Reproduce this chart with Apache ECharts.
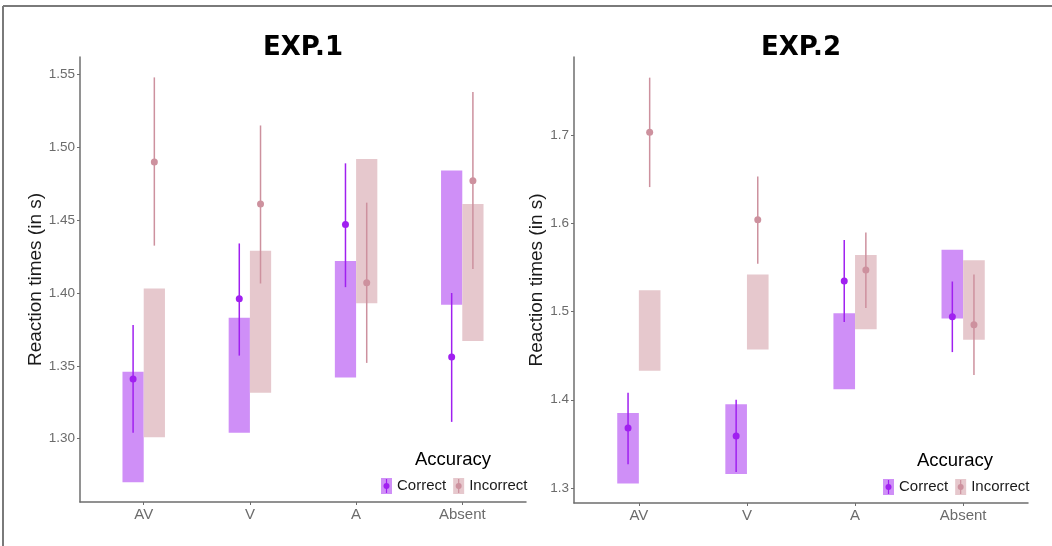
<!DOCTYPE html>
<html>
<head>
<meta charset="utf-8">
<script src="https://cdn.jsdelivr.net/npm/echarts@6/dist/echarts.min.js"></script>
<style>
html,body{margin:0;padding:0;background:#fff;}
#main{width:1052px;height:546px;}
</style>
</head>
<body>
<div id="main"></div>
<script>
// ---------- data ----------
const categories = ['AV', 'V', 'A', 'Absent'];
const yTicksExp1 = [1.30, 1.35, 1.40, 1.45, 1.50, 1.55];
const yTicksExp2 = [1.3, 1.4, 1.5, 1.6, 1.7];

// EXP.1
const exp1CorrectBoxLow   = [1.270, 1.304, 1.342, 1.392];
const exp1CorrectBoxHigh  = [1.346, 1.383, 1.422, 1.484];
const exp1CorrectMean     = [1.341, 1.396, 1.447, 1.356];
const exp1CorrectErrLow   = [1.304, 1.357, 1.404, 1.3115];
const exp1CorrectErrHigh  = [1.378, 1.434, 1.489, 1.400];
const exp1IncorrectBoxLow  = [1.301, 1.3315, 1.393, 1.367];
const exp1IncorrectBoxHigh = [1.403, 1.429, 1.492, 1.461];
const exp1IncorrectMean    = [1.490, 1.461, 1.407, 1.477];
const exp1IncorrectErrLow  = [1.4325, 1.4065, 1.352, 1.4165];
const exp1IncorrectErrHigh = [1.548, 1.515, 1.462, 1.538];

// EXP.2
const exp2CorrectBoxLow   = [1.305, 1.316, 1.412, 1.492];
const exp2CorrectBoxHigh  = [1.385, 1.395, 1.498, 1.570];
const exp2CorrectMean     = [1.368, 1.359, 1.5345, 1.494];
const exp2CorrectErrLow   = [1.327, 1.318, 1.488, 1.454];
const exp2CorrectErrHigh  = [1.408, 1.400, 1.581, 1.534];
const exp2IncorrectBoxLow  = [1.433, 1.457, 1.480, 1.468];
const exp2IncorrectBoxHigh = [1.524, 1.542, 1.564, 1.558];
const exp2IncorrectMean    = [1.703, 1.604, 1.547, 1.485];
const exp2IncorrectErrLow  = [1.641, 1.554, 1.504, 1.428];
const exp2IncorrectErrHigh = [1.765, 1.653, 1.5895, 1.542];

// ---------- styles ----------
const C_BOX = '#cf8ff7', C_PT = '#a020f0';
const I_BOX = '#e6c8cd', I_PT = '#cd919e';
const AXIS_C = '#6e6e6e', TICK_TXT = '#6b6b6b';
const FONT = '"Liberation Sans", Arial, sans-serif';
const LEG_SIZE = 15;

function boxSeries(name, idx, lows, highs, offset, color) {
  return {
    name: name, type: 'custom', xAxisIndex: idx, yAxisIndex: idx, z: 1,
    itemStyle: { color: color },
    data: categories.map((c, i) => [i + 1, lows[i], highs[i]]),
    encode: { x: 0, y: [1, 2] },
    renderItem: function (params, api) {
      const x = api.value(0), lo = api.value(1), hi = api.value(2);
      const p1 = api.coord([x + offset - 0.1, hi]);
      const p2 = api.coord([x + offset + 0.1, lo]);
      return { type: 'rect', shape: { x: p1[0], y: p1[1], width: p2[0] - p1[0], height: p2[1] - p1[1] },
               style: { fill: color } };
    },
    silent: true
  };
}
function errSeries(name, idx, lows, highs, offset, color) {
  return {
    name: name, type: 'custom', xAxisIndex: idx, yAxisIndex: idx, z: 2,
    itemStyle: { color: color },
    data: categories.map((c, i) => [i + 1, lows[i], highs[i]]),
    encode: { x: 0, y: [1, 2] },
    renderItem: function (params, api) {
      const x = api.value(0) + offset;
      const a = api.coord([x, api.value(1)]);
      const b = api.coord([x, api.value(2)]);
      return { type: 'line', shape: { x1: a[0], y1: a[1], x2: b[0], y2: b[1] },
               style: { stroke: color, lineWidth: 1.5 } };
    },
    silent: true
  };
}
function pointSeries(name, idx, means, offset, color) {
  return {
    name: name, type: 'scatter', xAxisIndex: idx, yAxisIndex: idx, z: 3,
    symbol: 'circle', symbolSize: 7,
    itemStyle: { color: color, opacity: 1 },
    data: means.map((m, i) => [i + 1 + offset, m]),
    silent: true
  };
}
function xAxis(idx) {
  return {
    type: 'value', gridIndex: idx, min: 0.4, max: 4.6,
    axisLine: { show: true, onZero: false, lineStyle: { color: AXIS_C, width: 1.5 } },
    axisTick: { show: true, length: 3, customValues: [1, 2, 3, 4], lineStyle: { color: AXIS_C } },
    axisLabel: { customValues: [1, 2, 3, 4], formatter: v => categories[Math.round(v) - 1],
                 color: TICK_TXT, fontSize: 15, fontFamily: FONT, margin: 5 },
    splitLine: { show: false }
  };
}
function yAxis(idx, min, max, ticks, dec, gap) {
  return {
    type: 'value', gridIndex: idx, min: min, max: max,
    name: 'Reaction times (in s)', nameLocation: 'middle', nameGap: gap,
    nameTextStyle: { fontSize: 19, color: '#1a1a1a', fontFamily: FONT },
    axisLine: { show: true, lineStyle: { color: AXIS_C, width: 1.5 } },
    axisTick: { show: true, length: 3, customValues: ticks, lineStyle: { color: AXIS_C } },
    axisLabel: { customValues: ticks, formatter: v => v.toFixed(dec),
                 color: TICK_TXT, fontSize: 13.5, fontFamily: FONT, margin: 5 },
    splitLine: { show: false }
  };
}
const KEY_W = 11, KEY_H = 16, KEY_GAP = 7;
function legend(left, top) {
  return {
    left: left, top: top, orient: 'horizontal', icon: 'rect', padding: 0,
    itemWidth: KEY_W, itemHeight: KEY_H, itemGap: KEY_GAP,
    textStyle: { fontSize: LEG_SIZE, color: '#1a1a1a', fontFamily: FONT },
    data: [
      { name: 'Correct', itemStyle: { color: C_BOX } },
      { name: 'Incorrect', itemStyle: { color: I_BOX } }
    ],
    selectedMode: false
  };
}
function measure(t) {
  const c = document.createElement('canvas').getContext('2d');
  c.font = LEG_SIZE + 'px "Liberation Sans", Arial, sans-serif';
  return c.measureText(t).width;
}
function keyDeco(left, top) {
  const out = [];
  const cy = top + KEY_H / 2;
  const cx1 = left + KEY_W / 2;
  const cx2 = left + KEY_W + 5 + measure('Correct') + KEY_GAP + KEY_W / 2;
  [[cx1, C_PT], [cx2, I_PT]].forEach(([cx, col]) => {
    out.push({ type: 'line', shape: { x1: cx, y1: cy - 7, x2: cx, y2: cy + 7 }, style: { stroke: col, lineWidth: 1.2 }, z: 100 });
    out.push({ type: 'circle', shape: { cx: cx, cy: cy, r: 3 }, style: { fill: col }, z: 101 });
  });
  return out;
}
function text(x, y, t, size, weight, family) {
  return { type: 'text', x: x, y: y, z: 100,
    style: { text: t, fontSize: size, fontWeight: weight, fontFamily: family, fill: '#000',
             textAlign: 'center', textVerticalAlign: 'middle' } };
}

const LEG1 = [381, 478], LEG2 = [883, 479];

const chart = echarts.init(document.getElementById('main'), null, { renderer: 'canvas' });
chart.setOption({
  animation: false,
  backgroundColor: '#fff',
  grid: [
    { left: 80, top: 57, width: 446, height: 445 },
    { left: 574, top: 57, width: 454, height: 446 }
  ],
  xAxis: [xAxis(0), xAxis(1)],
  yAxis: [
    yAxis(0, 1.2565, 1.562, yTicksExp1, 2, 30),
    yAxis(1, 1.283, 1.7884, yTicksExp2, 1, 22)
  ],
  legend: [legend(LEG1[0], LEG1[1]), legend(LEG2[0], LEG2[1])],
  series: [
    boxSeries('Correct', 0, exp1CorrectBoxLow, exp1CorrectBoxHigh, -0.1, C_BOX),
    boxSeries('Incorrect', 0, exp1IncorrectBoxLow, exp1IncorrectBoxHigh, 0.1, I_BOX),
    errSeries('Correct', 0, exp1CorrectErrLow, exp1CorrectErrHigh, -0.1, C_PT),
    errSeries('Incorrect', 0, exp1IncorrectErrLow, exp1IncorrectErrHigh, 0.1, I_PT),
    pointSeries('Correct', 0, exp1CorrectMean, -0.1, C_PT),
    pointSeries('Incorrect', 0, exp1IncorrectMean, 0.1, I_PT),

    boxSeries('Correct', 1, exp2CorrectBoxLow, exp2CorrectBoxHigh, -0.1, C_BOX),
    boxSeries('Incorrect', 1, exp2IncorrectBoxLow, exp2IncorrectBoxHigh, 0.1, I_BOX),
    errSeries('Correct', 1, exp2CorrectErrLow, exp2CorrectErrHigh, -0.1, C_PT),
    errSeries('Incorrect', 1, exp2IncorrectErrLow, exp2IncorrectErrHigh, 0.1, I_PT),
    pointSeries('Correct', 1, exp2CorrectMean, -0.1, C_PT),
    pointSeries('Incorrect', 1, exp2IncorrectMean, 0.1, I_PT)
  ],
  graphic: [
    { type: 'line', shape: { x1: 3, y1: 6, x2: 1052, y2: 6 }, style: { stroke: '#7a7a7a', lineWidth: 2 } },
    { type: 'line', shape: { x1: 3, y1: 6, x2: 3, y2: 546 }, style: { stroke: '#7a7a7a', lineWidth: 2 } },
    text(303, 48, 'EXP.1', 26, 'bold', '"DejaVu Sans", sans-serif'),
    text(801, 48, 'EXP.2', 26, 'bold', '"DejaVu Sans", sans-serif'),
    text(453, 460, 'Accuracy', 18.5, 'normal', FONT),
    text(955, 461, 'Accuracy', 18.5, 'normal', FONT)
  ].concat(keyDeco(LEG1[0], LEG1[1])).concat(keyDeco(LEG2[0], LEG2[1]))
});
</script>
</body>
</html>
